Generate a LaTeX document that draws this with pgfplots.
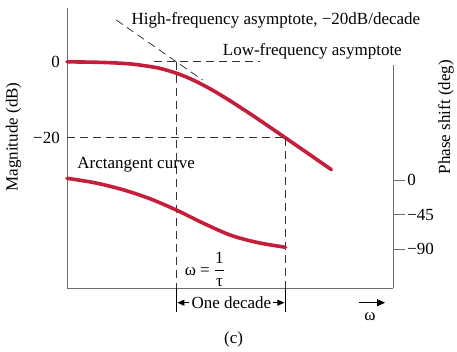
\documentclass[border=0pt]{standalone}
\usepackage{pgfplots}
\pgfplotsset{compat=1.18}
\usepackage{fontspec}
\setmainfont{Liberation Serif}
\usetikzlibrary{arrows.meta}
\definecolor{curvered}{RGB}{196,30,58}
\definecolor{axgray}{RGB}{110,110,110}
\definecolor{dashgray}{RGB}{50,50,50}

\pgfplotstableread{
u dB
-1.00 -0.043
-0.80 -0.108
-0.60 -0.266
-0.40 -0.639
-0.20 -1.455
-0.10 -2.125
0.00 -3.010
0.10 -4.125
0.20 -5.455
0.30 -6.973
0.40 -8.639
0.50 -10.414
0.60 -12.266
0.70 -14.170
0.80 -16.108
1.00 -20.043
1.20 -24.017
1.42 -28.406
}\magtable

\pgfplotstableread{
u ph
-1.00 2.2
-0.75 -3.5
-0.50 -12.2
-0.25 -23.9
0.00 -39.1
0.25 -56.5
0.50 -72.1
0.75 -81.7
1.00 -87.7
}\phasetable

\begin{document}
\begin{tikzpicture}[font=\fontsize{17}{20}\selectfont, x=1pt, y=1pt]
\useasboundingbox (-67,-63) rectangle (390,288);
\begin{axis}[
  at={(0,0)}, anchor=south west,
  scale only axis, width=326pt, height=280pt,
  xmin=-1, xmax=1.984, ymin=-59.55, ymax=14.13,
  axis x line=bottom, axis y line=left,
  axis line style={axgray, line width=0.8pt, -},
  xtick=\empty,
  ytick={-20,0}, yticklabels={−20,0},
  major tick length=0pt,
  yticklabel style={anchor=east, inner sep=0pt, xshift=-7pt},
  clip=false,
]
\addplot[curvered, line width=3.6pt, line cap=round, smooth] table[x=u, y=dB] {\magtable};
% dashed construction lines
\addplot[dashgray, line width=0.8pt, dash pattern=on 8pt off 5pt] coordinates {(-0.20,0) (0.765,0)};
\addplot[dashgray, line width=0.8pt, dash pattern=on 8pt off 5pt] coordinates {(-0.55,11.0) (0.241,-4.82)};
\addplot[dashgray, line width=0.8pt, dash pattern=on 8pt off 5pt] coordinates {(0,0) (0,-59.55)};
\addplot[dashgray, line width=0.8pt, dash pattern=on 8pt off 5pt] coordinates {(-1,-20) (1,-20)};
\addplot[dashgray, line width=0.8pt, dash pattern=on 8pt off 5pt] coordinates {(1,-20) (1,-59.55)};
\addplot[black, line width=0.9pt] coordinates {(0,-59.55) (0,-65.8)};
\addplot[black, line width=0.9pt] coordinates {(1,-59.55) (1,-65.8)};
% texts
\node[anchor=west, inner sep=0pt] at (axis cs:-0.410,10.97) {High-frequency asymptote, −20dB/decade};
\node[anchor=west, inner sep=0pt] at (axis cs:0.425,2.63) {Low-frequency asymptote};
\node[anchor=west, inner sep=0pt] at (axis cs:-0.906,-27.18) {Arctangent curve};
\node[anchor=west, inner sep=0pt] at (axis cs:0.076,-54.7) {ω = $\displaystyle\frac{\mbox{1}}{\mbox{τ}}$};
\node[inner sep=0pt] (dec) at (axis cs:0.5046,-63.42) {One decade};
\draw[black, line width=0.8pt, -{Triangle[length=7pt,width=6pt]}] ([xshift=-2pt]dec.west) -- (axis cs:0.01,-63.42);
\draw[black, line width=0.8pt, -{Triangle[length=7pt,width=6pt]}] ([xshift=2pt]dec.east) -- (axis cs:0.99,-63.42);
\draw[black, line width=0.8pt, -{Triangle[length=8pt,width=7pt]}] (axis cs:1.6725,-63.42) -- (axis cs:1.911,-63.42);
\node[inner sep=0pt] at (axis cs:1.773,-67.2) {ω};
\node[inner sep=0pt] at (axis cs:0.5257,-72.97) {(c)};
\node[rotate=90, inner sep=0pt] at (axis cs:-1.490,-19.8) {Magnitude (dB)};
\node[rotate=90, inner sep=0pt] at (axis cs:2.470,-14.55) {Phase shift (deg)};
\end{axis}
\begin{axis}[
  at={(0,0)}, anchor=south west,
  scale only axis, width=326pt, height=223pt,
  xmin=-1, xmax=1.984, ymin=-140.8, ymax=149.9,
  axis y line=right, hide x axis,
  axis line style={axgray, line width=0.8pt, -},
  ytick={-90,-45,0}, yticklabels={−90,−45,0},
  tick align=outside, major tick length=11.7pt,
  tick style={axgray, line width=0.8pt},
  yticklabel style={anchor=west, inner sep=0pt, xshift=2.5pt},
  clip=false,
]
\addplot[curvered, line width=3.6pt, line cap=round, smooth] table[x=u, y=ph] {\phasetable};
\end{axis}
\end{tikzpicture}
\end{document}
